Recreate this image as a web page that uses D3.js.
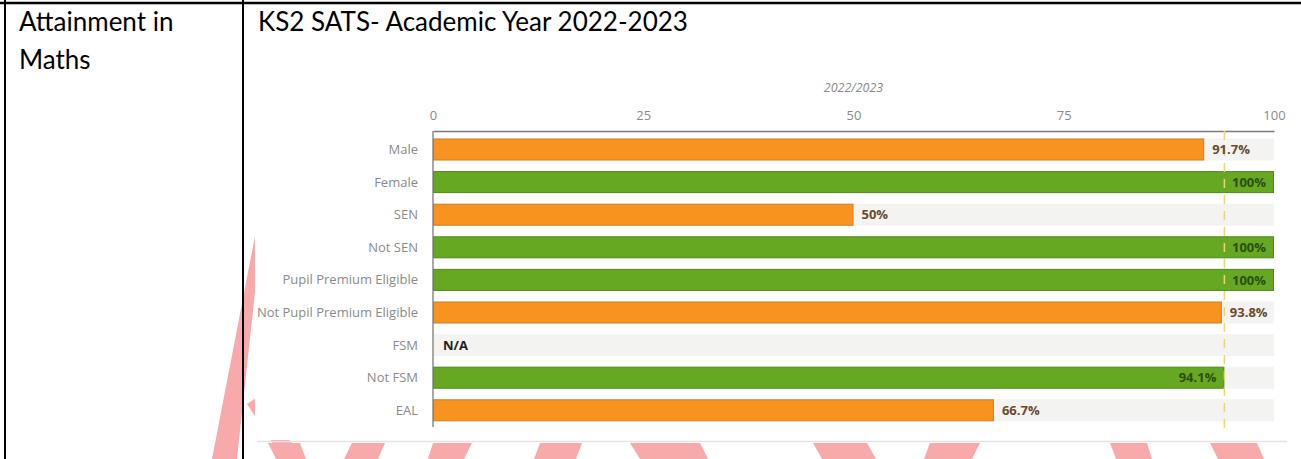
<!DOCTYPE html>
<html>
<head>
<meta charset="utf-8">
<script src="https://cdn.jsdelivr.net/npm/d3@7"></script>
<style>
  html, body { margin: 0; padding: 0; background: #fff; }
  svg { display: block; }
</style>
</head>
<body>
<div id="app"></div>
<script>
'use strict'

// chart data
const categories = ['Male', 'Female', 'SEN', 'Not SEN', 'Pupil Premium Eligible',
                    'Not Pupil Premium Eligible', 'FSM', 'Not FSM', 'EAL'];
const values = [91.7, 100, 50, 100, 100, 93.8, null, 94.1, 66.7];
const benchmark = 94.1;
const xTicks = [0, 25, 50, 75, 100];
const seriesName = '2022/2023';
const rowTitle = ['Attainment in', 'Maths'];
const chartTitle = 'KS2 SATS- Academic Year 2022-2023';

// background watermark pieces (decoration only)
const watermark = [
  [[255, 236], [261, 236], [237, 459], [212, 459]],
  [[247, 404], [256, 398], [305, 459], [283, 459]],
  [[268, 443], [300, 443], [306, 459], [276, 459]],
  [[352, 443], [385, 443], [378, 459], [344, 459]],
  [[433, 443], [472, 443], [464, 459], [428, 459]],
  [[540, 443], [582, 443], [576, 459], [534, 459]],
  [[630, 443], [700, 443], [708, 459], [640, 459]],
  [[813, 443], [867, 443], [876, 459], [822, 459]],
  [[930, 443], [980, 443], [972, 459], [924, 459]],
  [[1110, 443], [1147, 443], [1152, 459], [1116, 459]],
  [[1210, 443], [1257, 443], [1264, 459], [1218, 459]],
];

const W = 1301, H = 459;
const svg = d3.select('#app').append('svg')
  .attr('width', W).attr('height', H)
  .attr('viewBox', `0 0 ${W} ${H}`);

// watermark behind everything
svg.append('g')
  .selectAll('polygon')
  .data(watermark)
  .enter().append('polygon')
    .attr('points', (d) => d.map((p) => p.join(',')).join(' '))
    .attr('fill', '#f8a9a9');

// the pasted chart picture has a white background
svg.append('rect')
  .attr('x', 255).attr('y', 72).attr('width', W - 255).attr('height', 368)
  .attr('fill', '#fff');
svg.append('line')
  .attr('x1', 257).attr('x2', 1287).attr('y1', 441.5).attr('y2', 441.5)
  .attr('stroke', '#e2e2e2').attr('stroke-width', 1.5);

// table borders
svg.append('line').attr('x1', 0).attr('x2', W).attr('y1', 3).attr('y2', 3)
  .attr('stroke', '#000').attr('stroke-width', 2.5);
svg.append('line').attr('x1', 5).attr('x2', 5).attr('y1', 0).attr('y2', H)
  .attr('stroke', '#000').attr('stroke-width', 2);
svg.append('line').attr('x1', 243).attr('x2', 243).attr('y1', 0).attr('y2', H)
  .attr('stroke', '#000').attr('stroke-width', 2);

// table texts
const docFont = 'font-family: Lato, "Open Sans", sans-serif; font-size: 26px;';
svg.selectAll('text.rowtitle')
  .data(rowTitle)
  .enter().append('text')
    .attr('class', 'rowtitle')
    .attr('x', 19)
    .attr('y', (d, i) => 31 + i * 38)
    .attr('style', docFont)
    .attr('fill', '#000')
    .text((d) => d);
svg.append('text')
  .attr('x', 258).attr('y', 31)
  .attr('style', docFont)
  .attr('fill', '#000')
  .text(chartTitle);

// chart
svg.append('clipPath').attr('id', 'imgclip')
  .append('rect').attr('x', 255).attr('y', 72).attr('width', W - 255).attr('height', 368);
const g = svg.append('g').attr('clip-path', 'url(#imgclip)');
const font = 'font-family: "Open Sans", sans-serif;';

const x = d3.scaleLinear().domain([0, 100]).range([433, 1274]);
const y = d3.scaleBand().domain(categories)
  .range([133.2, 426.6]).paddingInner(0.325).paddingOuter(0.1625);

// series name
g.append('text')
  .attr('x', x(50)).attr('y', 92)
  .attr('text-anchor', 'middle')
  .attr('style', font + 'font-size: 12.5px; font-style: italic')
  .attr('fill', '#8a8a8a')
  .text(seriesName);

// top axis
const axis = g.append('g')
  .attr('transform', 'translate(0,131)')
  .call(d3.axisTop(x).tickValues(xTicks).tickSize(0).tickPadding(11));
axis.select('.domain').attr('stroke', '#7a7a7a').attr('stroke-width', 1.3);
axis.selectAll('text')
  .attr('style', font + 'font-size: 13px')
  .attr('fill', '#8a8a8a');

// tracks
g.selectAll('rect.track')
  .data(categories)
  .enter().append('rect')
    .attr('class', 'track')
    .attr('x', x(0))
    .attr('y', (d) => y(d))
    .attr('width', x(100) - x(0))
    .attr('height', y.bandwidth())
    .attr('fill', '#f3f3f1');

// bars
const rows = categories.map((c, i) => ({name: c, value: values[i]}));
const isGood = (d) => d.value >= benchmark;
g.selectAll('rect.bar')
  .data(rows.filter((d) => d.value !== null))
  .enter().append('rect')
    .attr('class', 'bar')
    .attr('x', x(0) + 0.5)
    .attr('y', (d) => y(d.name) + 0.5)
    .attr('width', (d) => x(d.value) - x(0) - 1)
    .attr('height', y.bandwidth() - 1)
    .attr('fill', (d) => isGood(d) ? '#67a822' : '#f7931e')
    .attr('stroke', (d) => isGood(d) ? '#4f8a1b' : '#d07d28')
    .attr('stroke-width', 1);

// vertical axis line
g.append('line')
  .attr('x1', x(0)).attr('x2', x(0)).attr('y1', 131).attr('y2', 427)
  .attr('stroke', '#7a7a7a').attr('stroke-width', 1.3);

// benchmark line
g.append('line')
  .attr('x1', x(benchmark)).attr('x2', x(benchmark))
  .attr('y1', 131).attr('y2', 428)
  .attr('stroke', '#e5d67e').attr('stroke-width', 1.5)
  .attr('stroke-dasharray', '9,7');

// category labels
g.selectAll('text.cat')
  .data(categories)
  .enter().append('text')
    .attr('class', 'cat')
    .attr('x', 418)
    .attr('y', (d) => y(d) + y.bandwidth() / 2)
    .attr('dy', '0.35em')
    .attr('text-anchor', 'end')
    .attr('style', font + 'font-size: 13px')
    .attr('fill', '#8a8a8a')
    .text((d) => d);

// value labels
const inside = (d) => d.value !== null && d.value >= 94;
g.selectAll('text.val')
  .data(rows)
  .enter().append('text')
    .attr('class', 'val')
    .attr('x', (d) => d.value === null ? x(0) + 10
                    : inside(d) ? x(d.value) - 8 : x(d.value) + 8)
    .attr('y', (d) => y(d.name) + y.bandwidth() / 2)
    .attr('dy', '0.36em')
    .attr('text-anchor', (d) => inside(d) ? 'end' : 'start')
    .attr('style', font + 'font-size: 13px; font-weight: bold')
    .attr('fill', (d) => d.value === null ? '#1e1e1e'
                       : isGood(d) ? '#2e4d12' : '#6a4a2c')
    .text((d) => d.value === null ? 'N/A' : `${d.value}%`);
</script>
</body>
</html>
